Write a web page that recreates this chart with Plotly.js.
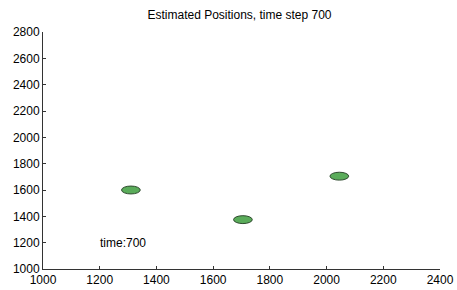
<!DOCTYPE html>
<html>
<head>
<meta charset="utf-8">
<script src="https://cdn.plot.ly/plotly-3.0.1.min.js"></script>
<style>html,body{margin:0;padding:0;background:#fff;}#chart{width:457px;height:290px;}</style>
</head>
<body>
<div id="chart"></div>
<script>
// Estimated target positions (centres) at time step 700
var posX = [1310, 1705, 2045];
var posY = [1600, 1375, 1705];
// Ellipse semi-axes in data units
var semiX = [33, 33, 33];
var semiY = [30, 30, 30];
var xTicks = [1000, 1200, 1400, 1600, 1800, 2000, 2200, 2400];
var yTicks = [1000, 1200, 1400, 1600, 1800, 2000, 2200, 2400, 2600, 2800];
var timeLabel = 'time:700';
var labelPos = [1195, 1200];

var shapes = posX.map(function (x, i) {
  return {
    type: 'circle', xref: 'x', yref: 'y',
    x0: x - semiX[i], x1: x + semiX[i],
    y0: posY[i] - semiY[i], y1: posY[i] + semiY[i],
    fillcolor: '#5aac5a', line: {color: '#2e4a2e', width: 1}
  };
});

var trace = {
  x: posX, y: posY, mode: 'markers', type: 'scatter',
  marker: {size: 1, opacity: 0}, hoverinfo: 'none', showlegend: false
};

var axisFont = {family: 'Liberation Sans, Arial, sans-serif', size: 12, color: '#000'};
var layout = {
  width: 457, height: 290,
  margin: {l: 43, r: 17, t: 32, b: 21, pad: 0},
  paper_bgcolor: '#fff', plot_bgcolor: 'rgba(0,0,0,0)',
  title: {text: 'Estimated Positions, time step 700', font: {family: 'Liberation Sans, Arial, sans-serif', size: 12, color: '#000'},
          xref: 'paper', x: 0.495, xanchor: 'center', y: 0.95, yanchor: 'middle'},
  xaxis: {range: [1000, 2400], tickvals: xTicks, ticktext: xTicks.map(String),
          showgrid: false, zeroline: false, showline: true, linecolor: '#333', linewidth: 1,
          ticks: 'inside', ticklen: 3, tickcolor: '#333', tickfont: axisFont, fixedrange: true},
  yaxis: {range: [1000, 2800], tickvals: yTicks, ticktext: yTicks.map(String),
          showgrid: false, zeroline: false, showline: true, linecolor: '#333', linewidth: 1,
          ticks: 'inside', ticklen: 3, tickcolor: '#333', tickfont: axisFont, fixedrange: true},
  shapes: shapes,
  annotations: [{x: labelPos[0], y: labelPos[1], xref: 'x', yref: 'y', text: timeLabel,
                 showarrow: false, xanchor: 'left', yanchor: 'middle',
                 font: {family: 'Liberation Sans, Arial, sans-serif', size: 12, color: '#000'}}]
};

Plotly.newPlot('chart', [trace], layout, {staticPlot: true, displayModeBar: false});
</script>
</body>
</html>
